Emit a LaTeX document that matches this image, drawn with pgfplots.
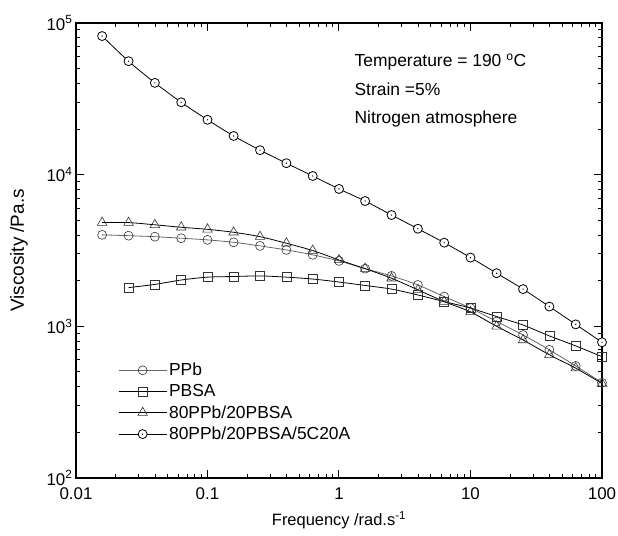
\documentclass[border=0pt]{standalone}
\usepackage{fontspec}
\setmainfont{Liberation Sans}
\usepackage{pgfplots}
\pgfplotsset{compat=1.18}

% open circle with a small dot in its centre
\pgfdeclareplotmark{codot}{%
  \pgfpathcircle{\pgfpointorigin}{\pgfplotmarksize}%
  \pgfusepathqfillstroke
  \pgfscope
  \pgfpathcircle{\pgfpointorigin}{0.7bp}%
  \pgfsetfillcolor{black}%
  \pgfusepathqfill
  \endpgfscope}

\begin{document}
\begin{tikzpicture}
% page = 618 x 536, axis box 526 x 455 placed 76 from the left, 58 from the bottom
\path[use as bounding box] (-76bp,-58bp) rectangle (542bp,478bp);
\begin{axis}[
  at={(0,0)}, anchor=south west,
  scale only axis,
  width=526bp, height=455bp,
  xmode=log, ymode=log,
  xmin=0.01, xmax=100, ymin=100, ymax=100000,
  xtick={0.01,0.1,1,10,100},
  xticklabels={0.01,0.1,1,10,100},
  ytick={100,1000,10000,100000},
  yticklabels={10\textsuperscript{2},10\textsuperscript{3},10\textsuperscript{4},10\textsuperscript{5}},
  minor xtick={0.02,0.03,0.04,0.05,0.06,0.07,0.08,0.09,
               0.2,0.3,0.4,0.5,0.6,0.7,0.8,0.9,
               2,3,4,5,6,7,8,9,20,30,40,50,60,70,80,90},
  minor ytick={200,300,400,500,600,700,800,900,
               2000,3000,4000,5000,6000,7000,8000,9000,
               20000,30000,40000,50000,60000,70000,80000,90000},
  tick align=inside,
  major tick length=8bp, minor tick length=4bp,
  every tick/.style={black, line width=1bp},
  axis line style={line width=1.3bp},
  tick label style={font=\fontsize{17}{18}\selectfont},
  xticklabel style={yshift=-6bp},
  yticklabel style={xshift=0bp},
  xlabel={Frequency /rad.s\textsuperscript{-1}},
  ylabel={Viscosity /Pa.s},
  xlabel style={font=\fontsize{16.5}{18}\selectfont,
    at={(axis description cs:0.5,0)}, anchor=north, yshift=-30bp},
  ylabel style={font=\fontsize{19}{21}\selectfont,
    at={(axis description cs:-0.085,0.5)}, anchor=south},
  legend style={at={(axis description cs:0.08,0.257)}, anchor=north west,
    draw=none, fill=none, font=\fontsize{17.5}{19}\selectfont,
    row sep=3.3bp, inner sep=0pt,
    /tikz/every even column/.append style={column sep=3bp}},
  legend cell align=left,
  legend image code/.code={%
    \draw[mark repeat=2,mark phase=2,#1]
      plot coordinates {(0bp,0bp) (24bp,0bp) (48bp,0bp)};},
  every axis plot/.append style={black, line width=0.8bp, smooth,
    mark options={solid, line width=0.6bp, draw=black!80}},
]
% PPb
\addplot[mark=o, mark size=4.5bp, draw=black!60] coordinates {
  (0.0158,4010) (0.0251,3960) (0.0398,3900) (0.0631,3810) (0.1,3715)
  (0.158,3580) (0.251,3390) (0.398,3190) (0.631,2960) (1,2700)
  (1.58,2400) (2.51,2150) (3.98,1875) (6.31,1570) (10,1320)
  (15.8,1075) (25.1,877) (39.8,700) (63.1,548) (100,425)};
\addlegendentry{PPb}
% PBSA
\addplot[mark=square, mark size=4.5bp] coordinates {
  (0.0251,1800) (0.0398,1890) (0.0631,2020) (0.1,2110)
  (0.158,2130) (0.251,2150) (0.398,2110) (0.631,2050) (1,1960)
  (1.58,1860) (2.51,1760) (3.98,1610) (6.31,1455) (10,1320)
  (15.8,1160) (25.1,1020) (39.8,865) (63.1,743) (100,631)};
\addlegendentry{PBSA}
% 80PPb/20PBSA
\addplot[mark=triangle, mark size=5.5bp] coordinates {
  (0.0158,4830) (0.0251,4830) (0.0398,4670) (0.0631,4500) (0.1,4360)
  (0.158,4170) (0.251,3900) (0.398,3530) (0.631,3160) (1,2740)
  (1.58,2400) (2.51,2075) (3.98,1740) (6.31,1455) (10,1245)
  (15.8,1000) (25.1,813) (39.8,649) (63.1,530) (100,420)};
\addlegendentry{80PPb/20PBSA}
% 80PPb/20PBSA/5C20A
\addplot[mark=codot, mark size=4.5bp, mark options={fill=white}] coordinates {
  (0.0158,82000) (0.0251,56000) (0.0398,40300) (0.0631,30000) (0.1,23000)
  (0.158,18000) (0.251,14500) (0.398,11900) (0.631,9800) (1,8050)
  (1.58,6700) (2.51,5420) (3.98,4400) (6.31,3560) (10,2840)
  (15.8,2240) (25.1,1760) (39.8,1350) (63.1,1030) (100,785)};
\addlegendentry{80PPb/20PBSA/5C20A}
% conditions
\node[anchor=west, font=\fontsize{17.5}{19}\selectfont]
  at (axis description cs:0.523,0.914) {Temperature = 190 \textsuperscript{o}C};
\node[anchor=west, font=\fontsize{17.5}{19}\selectfont]
  at (axis description cs:0.523,0.855) {Strain =5\%};
\node[anchor=west, font=\fontsize{17.5}{19}\selectfont]
  at (axis description cs:0.523,0.79) {Nitrogen atmosphere};
\end{axis}
\end{tikzpicture}
\end{document}
